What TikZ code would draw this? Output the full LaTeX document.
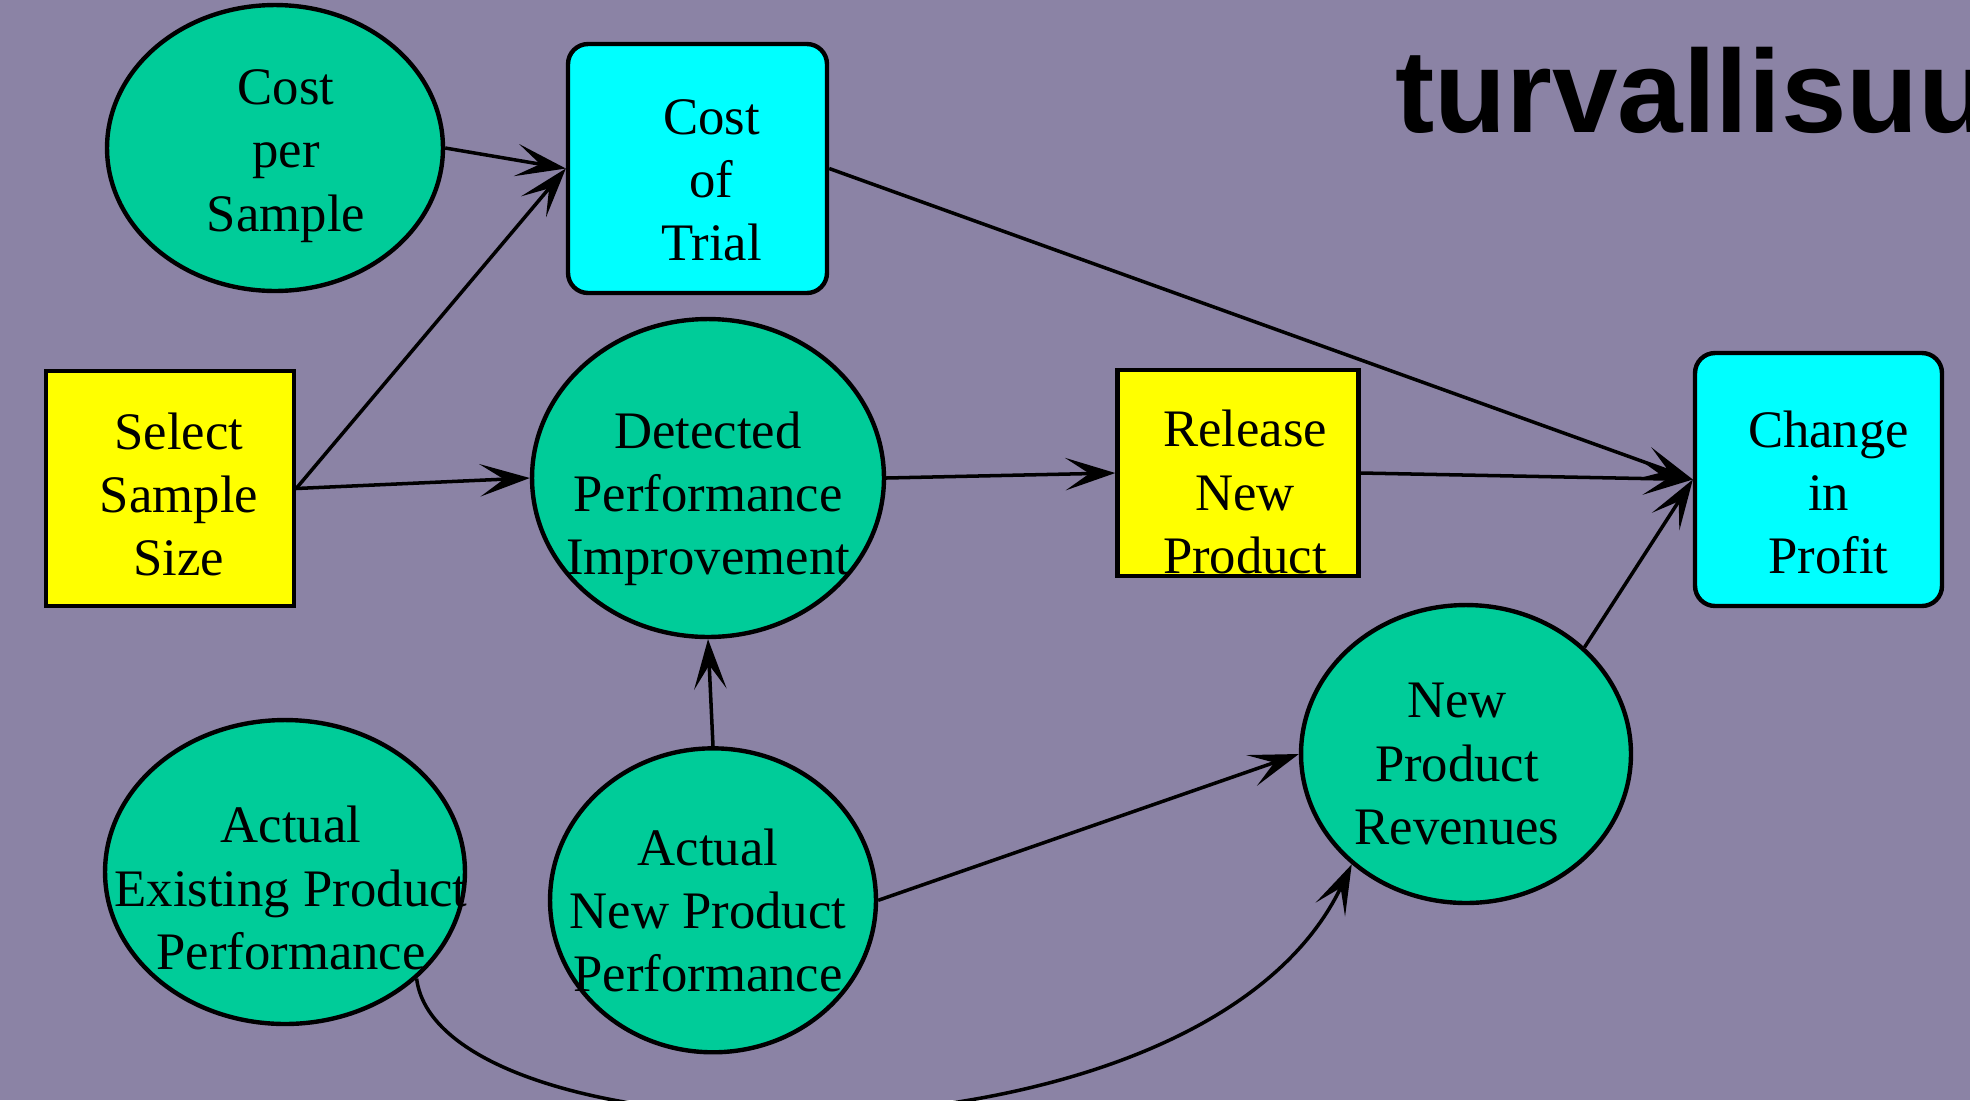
\documentclass[tikz,border=0pt]{standalone}
\usepackage{fontspec}
\setmainfont{Liberation Serif}
\newfontfamily\headfont{Liberation Sans}
\usepackage{xcolor}
\usetikzlibrary{shapes.geometric,arrows.meta,positioning}

\definecolor{bgviolet}{RGB}{139,131,165}
\definecolor{chancegreen}{RGB}{0,204,153}
\definecolor{valuecyan}{RGB}{0,255,255}
\definecolor{decyellow}{RGB}{255,255,0}

\tikzset{
  chance/.style = {ellipse, draw, line width = 2.5pt, fill = chancegreen, inner sep = 0pt},
  decision/.style = {rectangle, draw, line width = 2.5pt, fill = decyellow, inner sep = 0pt},
  valuebox/.style = {rectangle, rounded corners = 0.4cm, draw, line width = 2.5pt, fill = valuecyan, inner sep = 0pt},
  lbl/.style = {align = center, inner sep = 0pt, font = \fontsize{30}{36}\selectfont},
  link/.style = {-{Stealth[length = 1cm, width = 0.65cm, inset = 0.48cm]}, line width = 2pt}
}

\begin{document}
\begin{tikzpicture}[x = 0.02cm, y = -0.02cm]
        \useasboundingbox (0,0) rectangle (1970,1100);
        \clip (0,0) rectangle (1970,1100);
        \fill [bgviolet] (0,0) rectangle (1970,1100);

        \node [anchor = base west, font = \headfont\bfseries\fontsize{67}{70}\selectfont] (ttl) at (1389,132) {turvallisuu};

        \node [chance, minimum width = 6.72cm, minimum height = 5.72cm,
               label = {[lbl, xshift = 0.22cm, yshift = -0.16cm]center:{Cost\\per\\Sample}}] (CPS) at (275,148) {};
        \node [valuebox, minimum width = 5.18cm, minimum height = 4.98cm,
               label = {[lbl, xshift = 0.28cm, yshift = -0.24cm]center:{Cost\\of\\Trial}}] (CoT) at (697.5,168.5) {};
        \node [decision, minimum width = 4.96cm, minimum height = 4.7cm,
               label = {[lbl, xshift = 0.18cm, yshift = -0.12cm]center:{Select\\Sample\\Size}}] (SSS) at (170,488.5) {};
        \node [chance, minimum width = 7.04cm, minimum height = 6.36cm,
               label = {[lbl, yshift = -0.42cm]center:{Detected\\Performance\\Improvement}}] (DPI) at (708,478) {};
        \node [decision, minimum width = 4.82cm, minimum height = 4.12cm,
               label = {[lbl, xshift = 0.14cm, yshift = -0.38cm]center:{Release\\New\\Product}}] (RNP) at (1238,473) {};
        \node [valuebox, minimum width = 4.94cm, minimum height = 5.06cm,
               label = {[lbl, xshift = 0.2cm, yshift = -0.26cm]center:{Change\\in\\Profit}}] (CiP) at (1818.5,479.5) {};
        \node [chance, minimum width = 6.6cm, minimum height = 5.96cm,
               label = {[lbl, xshift = -0.18cm, yshift = -0.2cm]center:{New\\Product\\Revenues}}] (NR) at (1466,754) {};
        \node [chance, minimum width = 7.2cm, minimum height = 6.08cm,
               label = {[lbl, xshift = 0.12cm, yshift = -0.32cm]center:{Actual\\Existing Product\\Performance}}] (AE) at (285,872) {};
        \node [chance, minimum width = 6.52cm, minimum height = 6.08cm,
               label = {[lbl, xshift = -0.1cm, yshift = -0.2cm]center:{Actual\\New Product\\Performance}}] (ANP) [below = 2.14cm of DPI, xshift = 0.1cm] {};

        \path [link]
            (CPS.east) edge (CoT.west)
            (SSS.east) edge (CoT.west)
                       edge (DPI.west)
            (CoT.east) edge (CiP.west)
            (DPI.east) edge (RNP.west)
            (RNP.east) edge (CiP.west)
            (NR.42) edge (CiP.west)
            (ANP.north) edge (DPI.south)
            (ANP.east) edge (NR.west);

        \draw [link] (AE.-39) .. controls (440,1165) and (1200,1185) .. (NR.-136);
\end{tikzpicture}
\end{document}
